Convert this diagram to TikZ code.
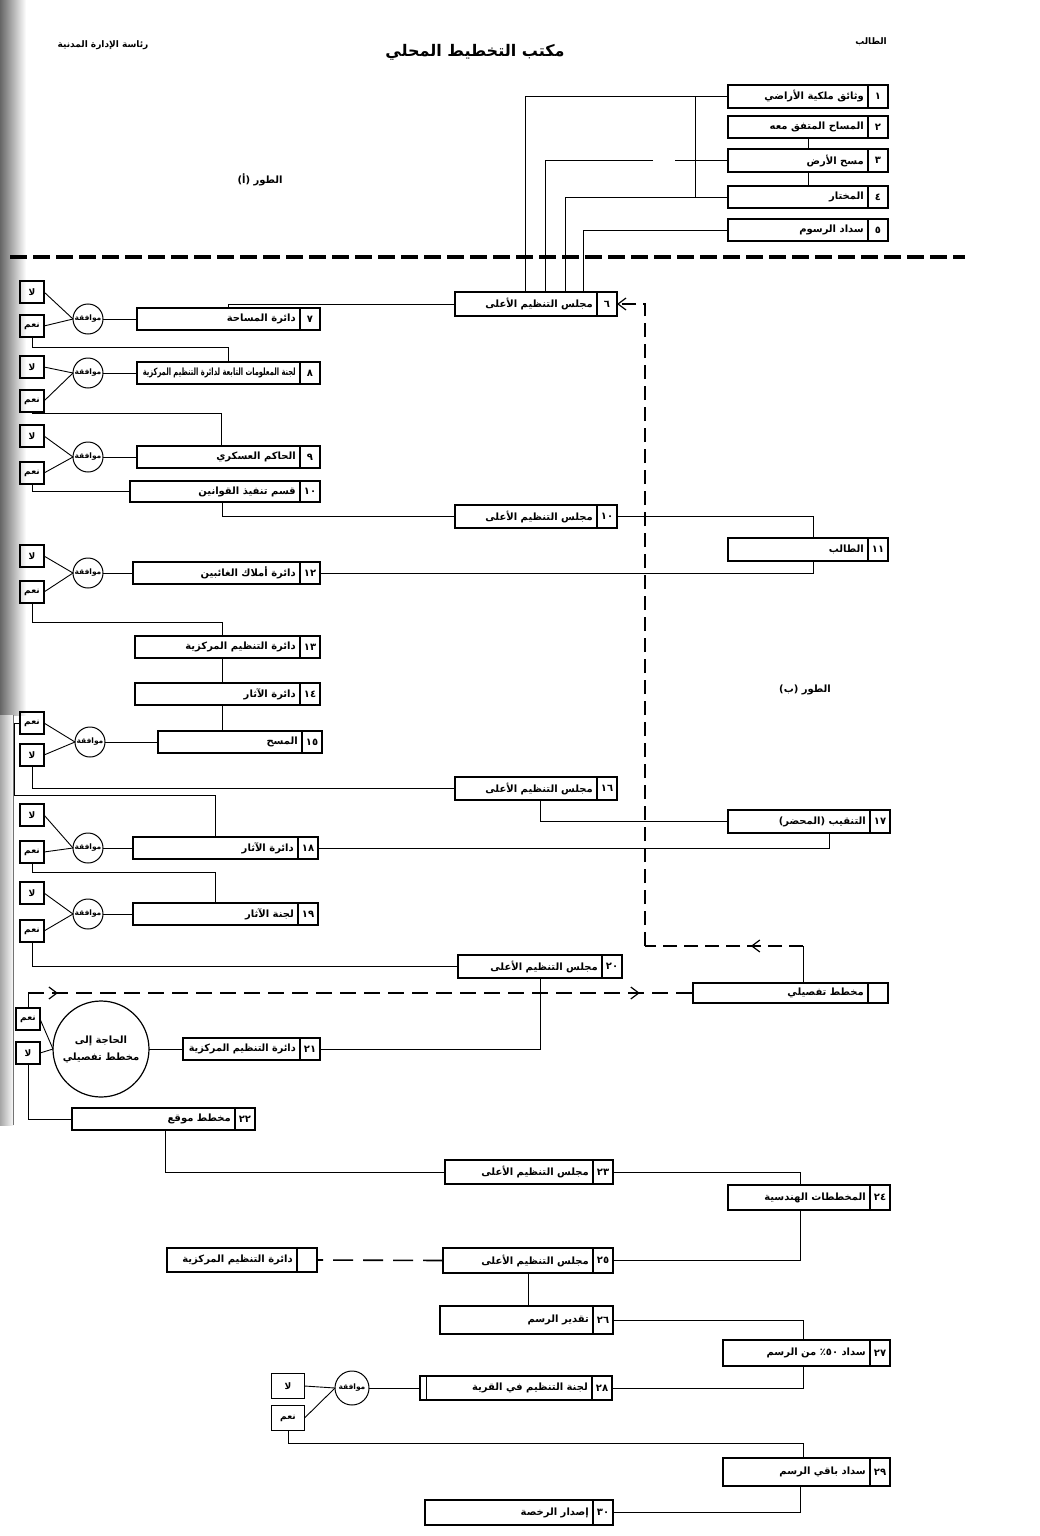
\documentclass[tikz,border=0pt]{standalone}
\usepackage{fontspec}
\usepackage{graphicx}
\usetikzlibrary{arrows.meta,decorations.markings}
\TeXXeTstate=1
\newfontfamily\ar[Script=Arabic]{DejaVu Sans}
\newsavebox\tbox
\newdimen\availw
\newcommand\fittext[2]{\sbox\tbox{#2}\ifdim\wd\tbox>#1\relax\resizebox{#1}{\height}{\usebox\tbox}\else\usebox\tbox\fi}
% box: name, x1, x2, y1, y2, number, text
\newcommand\abox[7]{%
 \node[boxst, minimum width={(#3-#2)*1pt}, minimum height={(#5-#4)*1pt}] (#1) at ({(#2+#3)/2},{(#4+#5)/2}) {};
 \draw[line width=1.3pt] ([xshift=-20pt]#1.north east) -- ([xshift=-20pt]#1.south east);
 \node[txtst] at ([xshift=-10pt]#1.east) {#6};
 \node[txtst, anchor=east] at ([xshift=-24pt]#1.east) {\availw=\numexpr#3-#2-30\relax pt\fittext{\availw}{#7}};
}
\begin{document}
\begin{tikzpicture}[x=1pt,y=-1pt,
 boxst/.style={draw, line width=1.3pt, rectangle, inner sep=0pt, outer sep=0pt},
 txtst/.style={font=\ar\bfseries\fontsize{10}{11}\selectfont, inner sep=0pt},
 yn/.style={draw, line width=1.2pt, rectangle, minimum width=24pt, minimum height=22pt, inner sep=0pt, outer sep=0pt, font=\ar\bfseries\fontsize{9}{10}\selectfont},
 agree/.style={draw, line width=1pt, circle, minimum size=30pt, inner sep=0pt, outer sep=0pt, font=\ar\bfseries\fontsize{7.5}{8}\selectfont},
 conn/.style={line width=0.9pt},
 dconn/.style={line width=1.1pt, dash pattern=on 14pt off 7pt},
 barbs/.style={postaction={decorate}, decoration={markings,
   mark=at position 0.045 with {\arrow{Straight Barb[length=8pt,width=12pt,line width=1.2pt]}},
   mark=at position 0.92 with {\arrow{Straight Barb[length=8pt,width=12pt,line width=1.2pt]}}}},
 onebarb/.style={postaction={decorate}, decoration={markings,
   mark=at position 0.33 with {\arrow{Straight Barb[length=8pt,width=12pt,line width=1.2pt]}}}},
 hdr/.style={font=\ar\bfseries\fontsize{#1}{#1}\selectfont, inner sep=0pt}
]
\useasboundingbox (0,0) rectangle (1040,1536);
\fill[white] (0,0) rectangle (1040,1536);
% scan shadow on the left edge
\shade[left color=black!60, right color=white] (0,0) rectangle (26,715);
\shade[left color=black!35, right color=white] (0,715) rectangle (14,1125);
\draw[line width=1pt, black!55] (13,715) -- (13,1125);

% header texts
\node[hdr=9] (hA) at (103,45) {\beginR رئاسة الإدارة المدنية\endR};
\node[hdr=16] (title) at (475,52) {\beginR مكتب التخطيط المحلي\endR};
\node[hdr=9] (hS) at (871,42) {\beginR الطالب\endR};
\node[hdr=10] (phA) at (260,180) {\beginR الطور (أ)\endR};
\node[hdr=10] (phB) at (805,690) {\beginR الطور (ب)\endR};

% phase divider
\coordinate (sepL) at (10,257);
\coordinate (sepR) at (965,257);
\draw[line width=4pt, dash pattern=on 17pt off 6pt] (sepL) -- (sepR);

% boxes
\abox{b1}{728}{888}{85}{108}{١}{\beginR وثائق ملكية الأراضي\endR}
\abox{b2}{728}{888}{116}{138}{٢}{\beginR المساح المتفق معه\endR}
\abox{b3}{728}{888}{149}{172}{٣}{\beginR مسح الأرض\endR}
\abox{b4}{728}{888}{186}{208}{٤}{\beginR المختار\endR}
\abox{b5}{728}{888}{219}{241}{٥}{\beginR سداد الرسوم\endR}
\abox{b6}{455}{617}{292}{316}{٦}{\beginR مجلس التنظيم الأعلى\endR}
\abox{b7}{137}{320}{308}{330}{٧}{\beginR دائرة المساحة\endR}
\abox{b8}{137}{320}{362}{384}{٨}{\beginR لجنة المعلومات التابعة لدائرة التنظيم المركزية\endR}
\abox{b9}{137}{320}{446}{468}{٩}{\beginR الحاكم العسكري\endR}
\abox{b10}{130}{320}{481}{502}{١٠}{\beginR قسم تنفيذ القوانين\endR}
\abox{bc10}{455}{617}{505}{528}{١٠}{\beginR مجلس التنظيم الأعلى\endR}
\abox{b11}{728}{888}{538}{561}{١١}{\beginR الطالب\endR}
\abox{b12}{133}{320}{562}{584}{١٢}{\beginR دائرة أملاك الغائبين\endR}
\abox{b13}{135}{320}{636}{658}{١٣}{\beginR دائرة التنظيم المركزية\endR}
\abox{b14}{135}{320}{683}{705}{١٤}{\beginR دائرة الآثار\endR}
\abox{b15}{158}{322}{731}{753}{١٥}{\beginR المسح\endR}
\abox{b16}{455}{617}{777}{800}{١٦}{\beginR مجلس التنظيم الأعلى\endR}
\abox{b17}{728}{890}{810}{833}{١٧}{\beginR التنقيب (المحضر)\endR}
\abox{b18}{133}{318}{837}{859}{١٨}{\beginR دائرة الآثار\endR}
\abox{b19}{133}{318}{903}{925}{١٩}{\beginR لجنة الآثار\endR}
\abox{b20}{458}{622}{955}{978}{٢٠}{\beginR مجلس التنظيم الأعلى\endR}
\abox{bd}{693}{888}{983}{1003}{}{\beginR مخطط تفصيلي\endR}
\abox{b21}{183}{320}{1038}{1060}{٢١}{\beginR دائرة التنظيم المركزية\endR}
\abox{b22}{72}{255}{1108}{1130}{٢٢}{\beginR مخطط موقع\endR}
\abox{b23}{445}{613}{1160}{1184}{٢٣}{\beginR مجلس التنظيم الأعلى\endR}
\abox{b24}{728}{890}{1185}{1210}{٢٤}{\beginR المخططات الهندسية\endR}
\abox{b25}{443}{613}{1248}{1273}{٢٥}{\beginR مجلس التنظيم الأعلى\endR}
\abox{bz}{167}{317}{1248}{1272}{}{\beginR دائرة التنظيم المركزية\endR}
\abox{b26}{440}{613}{1306}{1334}{٢٦}{\beginR تقدير الرسم\endR}
\abox{b27}{723}{890}{1340}{1366}{٢٧}{\beginR سداد ٥٠٪ من الرسم\endR}
\abox{b28}{420}{612}{1376}{1400}{٢٨}{\beginR لجنة التنظيم في القرية\endR}
\draw[line width=1pt] ([xshift=6pt]b28.north west) -- ([xshift=6pt]b28.south west);
\abox{b29}{723}{890}{1458}{1486}{٢٩}{\beginR سداد باقي الرسم\endR}
\abox{b30}{425}{613}{1500}{1525}{٣٠}{\beginR إصدار الرخصة\endR}

% approval groups
\node[yn] (n7) at (32,292) {لا};
\node[yn] (y7) at (32,326) {نعم};
\node[agree] (c7) at (88,319) {موافقة};
\node[yn] (n8) at (32,367) {لا};
\node[yn] (y8) at (32,401) {نعم};
\node[agree] (c8) at (88,373) {موافقة};
\node[yn] (n9) at (32,436) {لا};
\node[yn] (y9) at (32,473) {نعم};
\node[agree] (c9) at (88,457) {موافقة};
\node[yn] (n12) at (32,556) {لا};
\node[yn] (y12) at (32,592) {نعم};
\node[agree] (c12) at (88,573) {موافقة};
\node[yn] (y15) at (32,723) {نعم};
\node[yn] (n15) at (32,755) {لا};
\node[agree] (c15) at (90,742) {موافقة};
\node[yn] (n18) at (32,815) {لا};
\node[yn] (y18) at (32,852) {نعم};
\node[agree] (c18) at (88,848) {موافقة};
\node[yn] (n19) at (32,893) {لا};
\node[yn] (y19) at (32,931) {نعم};
\node[agree] (c19) at (88,914) {موافقة};
\node[yn] (y21) at (28,1019) {نعم};
\node[yn] (n21) at (28,1053) {لا};
\node[draw, line width=1.2pt, circle, minimum size=96pt, inner sep=0pt, outer sep=0pt, align=center,
  font=\ar\bfseries\fontsize{10}{17}\selectfont] (c21) at (101,1049) {\beginR الحاجة إلى\endR\\\beginR مخطط تفصيلي\endR};
\node[yn, minimum width=33pt, minimum height=25pt] (n28) at (288,1386) {لا};
\node[yn, minimum width=33pt, minimum height=25pt] (y28) at (288,1418) {نعم};
\node[agree, minimum size=34pt] (c28) at (352,1388) {موافقة};

\foreach \g in {7,8,9,12,15,18,19,28}{
  \draw[conn] (b\g.west) -- (c\g.east);
  \draw[conn] (c\g.west) -- (n\g.east);
  \draw[conn] (c\g.west) -- (y\g.east);
}
\draw[conn] (b21.west) -- (c21.east);
\draw[conn] (c21.west) -- (y21.east);
\draw[conn] (c21.west) -- (n21.east);

% phase A connectors
\draw[conn] (b1.west) -| ([xshift=-11pt]b6.north);
\coordinate (j1) at (695,96.5);
\draw[conn] (j1) |- (b4.west);
\draw[conn] (b2.south) -- (b3.north);
\draw[conn] (b3.south) -- (b4.north);
\draw[conn, dash pattern=on 53pt off 22pt on 500pt off 1pt] (b3.west) -| ([xshift=9pt]b6.north);
\draw[conn] (b4.west) -| ([xshift=29pt]b6.north);
\draw[conn] (b5.west) -| ([xshift=47pt]b6.north);

% phase B connectors
\draw[conn] (b6.west) -| (b7.north);
\draw[conn] (y7.south) |- ([yshift=15pt]b8.north) -- (b8.north);
\coordinate (k9) at ([xshift=-7pt]b9.north);
\draw[conn] (y8.south) |- ([yshift=33pt]k9) -- (k9);
\draw[conn] (y9.south) |- (b10.west);
\coordinate (k10) at ([xshift=-3pt]b10.south);
\draw[conn] (k10) |- (bc10.west);
\coordinate (k11n) at ([xshift=5pt]b11.north);
\draw[conn] (bc10.east) -| (k11n);
\coordinate (k11s) at ([xshift=5pt]b11.south);
\draw[conn] (k11s) |- (b12.east);
\coordinate (k13) at ([xshift=-5pt]b13.north);
\draw[conn] (y12.south) |- ([yshift=14pt]k13) -- (k13);
\coordinate (k13s) at ([xshift=-5pt]b13.south);
\draw[conn] (k13s) -- (k13s |- b14.north);
\coordinate (k14s) at ([xshift=-5pt]b14.south);
\draw[conn] (k14s) -- (k14s |- b15.north);
\draw[conn] (n15.south) |- (b16.west);
\coordinate (e15) at (14,795);
\coordinate (k18) at ([xshift=-10.5pt]b18.north);
\draw[conn] (y15.west) -| (e15) -- (e15 -| k18) -- (k18);
\coordinate (k16) at ([xshift=4pt]b16.south);
\draw[conn] (k16) |- (b17.west);
\coordinate (k17) at ([xshift=20pt]b17.south);
\draw[conn] (k17) |- (b18.east);
\coordinate (k19) at ([xshift=-10.5pt]b19.north);
\draw[conn] (y18.south) |- ([yshift=31pt]k19) -- (k19);
\draw[conn] (y19.south) |- (b20.west);
\draw[conn] (b20.south) |- (b21.east);

% detailed plan loop
\coordinate (d1) at (28,993);
\draw[conn] (y21.north) -- (d1);
\draw[line width=1.1pt, dash pattern=on 16pt off 8pt, barbs] (d1) -- (bd.west);
\coordinate (r1) at ([xshift=12.5pt]bd.north);
\coordinate (r2) at (803,946);
\coordinate (r3) at (645,946);
\draw[conn] (r1) -- (r2);
\draw[dconn, onebarb] (r2) -- (r3);
\draw[dconn, -{Straight Barb[length=8pt,width=12pt,line width=1.2pt]}] (r3) |- (b6.east);

% phase C connectors
\draw[conn] (n21.south) |- (b22.west);
\coordinate (k22) at ([xshift=1.5pt]b22.south);
\draw[conn] (k22) |- (b23.west);
\coordinate (k24n) at ([xshift=-9pt]b24.north);
\draw[conn] (b23.east) -| (k24n);
\coordinate (k24s) at ([xshift=-9pt]b24.south);
\draw[conn] (k24s) |- (b25.east);
\draw[line width=1.6pt, dash pattern=on 20pt off 10pt] (b25.west) -- (bz.east);
\draw[conn] (b25.south) -- (b25.south |- b26.north);
\coordinate (k27n) at ([xshift=-3.5pt]b27.north);
\draw[conn] (b26.east) -| (k27n);
\coordinate (k27s) at ([xshift=-3.5pt]b27.south);
\draw[conn] (k27s) |- (b28.east);
\coordinate (k29n) at ([xshift=-3.5pt]b29.north);
\draw[conn] (y28.south) |- ([yshift=15pt]k29n) -- (k29n);
\coordinate (k29s) at ([xshift=-6.5pt]b29.south);
\draw[conn] (k29s) |- (b30.east);
\end{tikzpicture}
\end{document}
